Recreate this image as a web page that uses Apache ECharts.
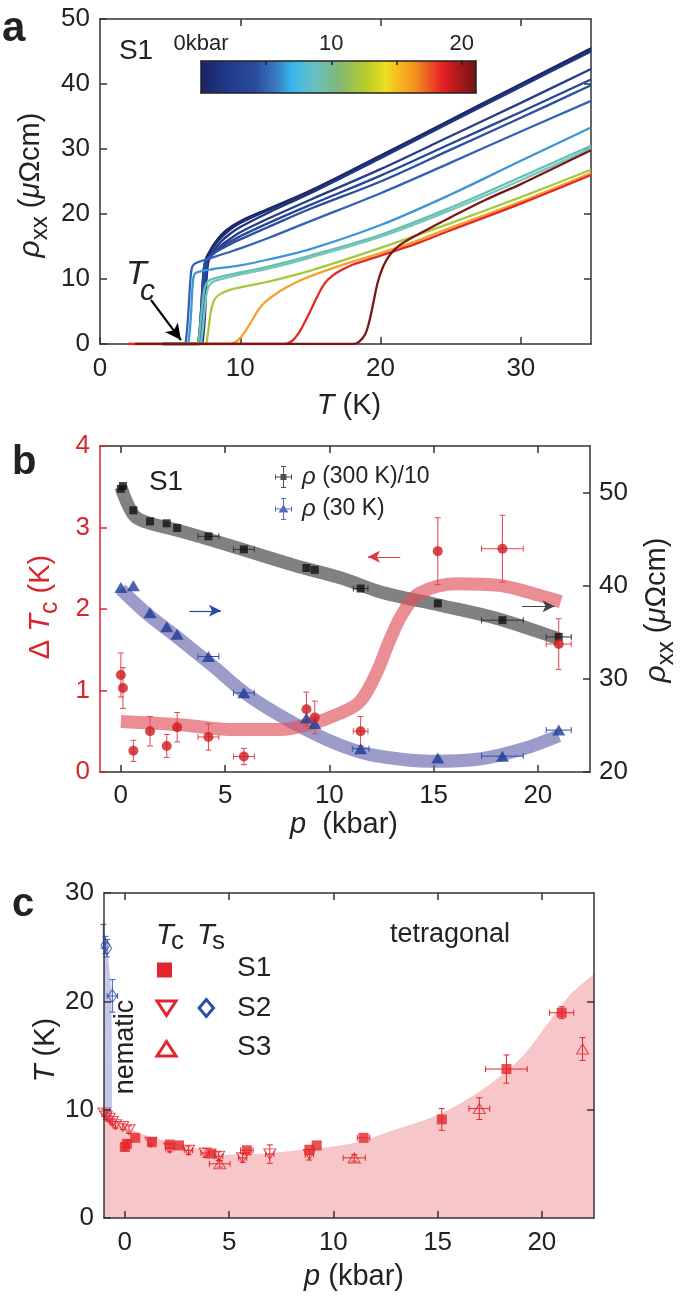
<!DOCTYPE html>
<html><head><meta charset="utf-8">
<script src="https://cdn.jsdelivr.net/npm/echarts@6.0.0/dist/echarts.min.js"></script>
<style>html,body{margin:0;padding:0;background:#fff}#chart{width:685px;height:1297px}</style>
</head><body><div id="chart"></div>
<script>
// ---------------- Panel a data (T in K, rho in µΩcm) ----------------
const pressuresA = [0, 0.1, 0.6, 1.4, 2.2, 2.7, 4.2, 5.9, 8.9, 9.3, 11.5, 15.2, 18.3, 21.0];
const colorsA = ['#1b2667','#1e2d74','#22357f','#243d8c','#284596','#2b4ea2','#3262b4','#3d97d6','#64c0b6','#78c6b8','#a6c83e','#f5a028','#e42a25','#7b1616'];
const curveP00 = [[4.5,0],[6.9,0],[7.05,1],[7.2,5],[7.35,10.5],[7.5,12.8],[7.8,14.2],[8.3,15.9],[9,17.5],[10,18.9],[12,20.8],[15,23.6],[20,29.0],[25,34.5],[30,40.0],[35,45.5]];
const curveP01 = [[4.5,0],[7.0,0],[7.15,1],[7.3,5],[7.45,10.5],[7.6,12.8],[7.9,14.2],[8.4,15.8],[9.1,17.3],[10,18.6],[12,20.6],[15,23.4],[20,28.8],[25,34.3],[30,39.8],[35,45.2]];
const curveP06 = [[4.5,0],[7.2,0],[7.35,1],[7.5,5],[7.6,10],[7.75,12.8],[8.1,14.3],[8.6,15.7],[9.3,17.0],[10,18.0],[12,20.2],[15,23.2],[20,28.6],[25,34.1],[30,39.6],[35,45.0]];
const curveP14 = [[4.5,0],[7.1,0],[7.25,1],[7.4,5],[7.55,10],[7.7,12.8],[8.1,14.0],[8.7,15.3],[9.5,16.5],[10,17.2],[12,19.3],[15,22.2],[20,26.9],[25,32.0],[30,37.1],[35,42.3]];
const curveP22 = [[4.5,0],[7.0,0],[7.15,1],[7.3,5],[7.45,10],[7.6,12.7],[8.1,13.9],[8.7,15.0],[9.5,16.0],[10,16.6],[12,18.6],[15,21.4],[20,25.9],[25,30.8],[30,35.7],[35,40.7]];
const curveP27 = [[4.5,0],[6.9,0],[7.05,1],[7.2,5],[7.35,10],[7.5,12.6],[8.0,13.8],[8.7,14.7],[9.5,15.6],[10,16.1],[12,18.0],[15,20.8],[20,25.0],[25,29.9],[30,34.8],[35,39.8]];
const curveP42 = [[4.5,0],[6.0,0],[6.15,1],[6.3,5],[6.45,10],[6.6,12.0],[7,12.6],[8,13.3],[9,14.0],[10,14.7],[12,16.3],[15,18.9],[20,23.2],[25,27.9],[30,32.7],[35,37.4]];
const curveP59 = [[4.5,0],[6.2,0],[6.35,1],[6.5,5],[6.6,9],[6.75,10.8],[7.2,11.2],[8,11.5],[10,12.1],[12,13.0],[15,14.6],[20,18.3],[25,23.0],[30,28.2],[35,33.3]];
const curveP89 = [[4.5,0],[6.9,0],[7.05,1],[7.2,4],[7.35,7],[7.5,8.9],[7.8,9.8],[8.5,10.3],[10,11.0],[12,11.9],[15,13.6],[20,16.8],[25,21.0],[30,25.7],[35,30.5]];
const curveP93 = [[4.5,0],[7.1,0],[7.25,1],[7.4,4],[7.55,7],[7.7,8.6],[8,9.5],[8.7,10.0],[10,10.7],[12,11.6],[15,13.3],[20,16.5],[25,20.6],[30,25.2],[35,30.1]];
const curveP115 = [[4.5,0],[7.5,0],[7.65,1],[7.8,3.5],[7.95,5.5],[8.15,6.8],[8.5,7.6],[9.2,8.3],[10,8.7],[12,9.6],[15,11.3],[20,14.8],[25,18.6],[30,22.6],[35,26.8]];
const curveP152 = [[2,0],[9.3,0],[9.8,0.5],[10.3,1.8],[10.8,3.5],[11.3,5.3],[11.8,6.5],[12.4,7.5],[13.2,8.6],[14.5,10.0],[16.5,11.6],[18.5,13.0],[20,14.0],[22.5,15.8],[25,17.9],[30,21.9],[35,26.3]];
const curveP183 = [[2,0],[13.2,0],[13.7,0.5],[14.2,1.8],[14.7,3.8],[15.2,6.0],[15.7,8.2],[16.2,9.8],[16.9,11.0],[18,12.2],[19,12.9],[20,13.6],[22.5,15.4],[25,17.5],[30,21.6],[35,26.0]];
const curveP210 = [[2.5,0],[18.1,0],[18.5,0.4],[18.9,1.5],[19.2,3.5],[19.5,6.5],[19.8,9.5],[20.2,12.0],[20.7,13.8],[21.3,15.1],[22.2,16.3],[23.5,17.8],[25,19.5],[27.5,22.2],[30,24.6],[32.5,27.2],[35,29.8]];
const curvesA = [curveP00,curveP01,curveP06,curveP14,curveP22,curveP27,curveP42,curveP59,curveP89,curveP93,curveP115,curveP152,curveP183,curveP210];
const ticksAx = [0,10,20,30];
const ticksAy = [0,10,20,30,40,50];
const colorbarMax = 21.1;
const colorbarTicks = [5,10,15,20];
const colorbarLabels = [0,10,20];
const colorbarStops = [[0,'#1a2466'],[0.1,'#213a8c'],[0.2,'#2b4c9e'],[0.27,'#3a78c0'],[0.33,'#35b8ec'],[0.42,'#6cc0c0'],[0.5,'#80b878'],[0.6,'#b8cc2a'],[0.67,'#e8e020'],[0.71,'#f7c020'],[0.78,'#f39020'],[0.88,'#e51e25'],[1,'#6e1512']];

// ---------------- Panel b data ----------------
const pB300 = [0, 0.1, 0.6, 1.4, 2.2, 2.7, 4.2, 5.9, 8.9, 9.3, 11.5, 15.2, 18.3, 21.0];
const rho300 = [50.4, 50.7, 48.1, 46.9, 46.7, 46.2, 45.3, 43.9, 41.9, 41.7, 39.7, 38.1, 36.3, 34.5];
const rho300Xerr = [0,0,0,0,0,0,0.5,0.5,0,0,0.35,0,1.0,0.6];
const pB30 = [0, 0.6, 1.4, 2.2, 2.7, 4.2, 5.9, 8.9, 9.3, 11.5, 15.2, 18.3, 21.0];
const rho30 = [39.8, 40.0, 37.1, 35.6, 34.8, 32.4, 28.5, 25.8, 25.2, 22.5, 21.5, 21.7, 24.5];
const rho30Xerr = [0,0,0,0,0,0.5,0.5,0,0,0.4,0,1.0,0.6];
const pDT = [0, 0.1, 0.6, 1.4, 2.2, 2.7, 4.2, 5.9, 8.9, 9.3, 11.5, 15.2, 18.3, 21.0];
const dTc = [1.19, 1.03, 0.26, 0.50, 0.32, 0.55, 0.43, 0.19, 0.77, 0.67, 0.50, 2.71, 2.74, 1.57];
const dTcYerr = [0.27,0.25,0.13,0.18,0.14,0.18,0.16,0.1,0.21,0.2,0.18,0.41,0.41,0.31];
const dTcXerr = [0,0,0,0,0,0,0.5,0.5,0,0,0.35,0,1.0,0.6];
const bandGrayP = [0, 0.3, 0.7, 1.4, 2.8, 5.1, 8.3, 10.6, 12.5, 15.3, 18.0, 21.0];
const bandGrayRho = [50.6, 48.9, 47.4, 46.7, 45.9, 44.4, 42.2, 40.8, 39.3, 37.9, 36.5, 34.3];
const bandBlueP = [0, 1.2, 2.8, 4.4, 6.0, 7.6, 9.1, 10.6, 12.1, 14.9, 17.2, 19.3, 21.0];
const bandBlueRho = [39.6, 37.1, 34.3, 31.4, 28.4, 26.1, 24.3, 22.8, 21.8, 21.15, 21.4, 22.5, 23.9];
const bandRedP = [0, 2.8, 5.5, 7.6, 9.1, 10.5, 11.45, 12.25, 12.9, 13.5, 14.3, 16.1, 18.15, 19.75, 21.1];
const bandRedDT = [0.62, 0.58, 0.52, 0.52, 0.59, 0.72, 0.86, 1.21, 1.62, 1.94, 2.19, 2.31, 2.29, 2.19, 2.09];
const ticksBx = [0,5,10,15,20];
const ticksBl = [0,1,2,3,4];
const ticksBr = [20,30,40,50];

// ---------------- Panel c data ----------------
const pS1 = [0, 0.1, 0.5, 1.3, 2.15, 2.6, 4.15, 5.85, 8.85, 9.2, 11.45, 15.2, 18.3, 20.95];
const TcS1 = [6.55, 6.85, 7.4, 7.0, 6.78, 6.7, 5.95, 6.25, 6.3, 6.7, 7.4, 9.1, 13.75, 18.95];
const S1Xerr = [0,0,0,0,0,0,0,0.3,0,0,0.3,0,1.0,0.58];
const S1Yerr = [0.3,0.3,0,0,0,0,0,0,0,0,0,1.0,1.3,0.55];
const pS2 = [-1.0, -0.9, -0.75, -0.6, -0.45, -0.1, 0.2, 1.25, 2.15, 3.05, 3.85, 4.5, 5.65, 6.95, 8.85];
const TcS2 = [9.7, 9.4, 9.2, 8.9, 8.6, 8.45, 8.15, 7.0, 6.45, 6.25, 6.0, 5.7, 5.55, 5.9, 5.85];
const S2Xerr = [0,0,0,0,0,0,0,0,0.2,0.2,0.2,0.2,0.2,0.2,0.2];
const S2Yerr = [0.3,0.3,0.3,0.3,0.3,0.3,0.35,0.3,0.35,0.4,0.4,0.4,0.4,0.85,0.5];
const pS3 = [4.55, 11.0, 17.0, 21.95];
const TcS3 = [5.0, 5.55, 10.1, 15.6];
const S3Xerr = [0.5, 0.53, 0.5, 0];
const S3Yerr = [0.3, 0.3, 1.0, 1.05];
const pTs = [-1.03, -0.93, -0.85, -0.6];
const TsS2 = [26.0, 25.2, 24.9, 20.5];
const TsXerr = [0,0,0,0.25];
const TsYerr = [1.1,0.8,0.8,1.5];
const scP = [-1, -0.5, 0, 0.5, 1.3, 2.2, 3.0, 4.0, 4.9, 6.0, 7.0, 8.5, 10.0, 11.4, 12.5, 13.7, 15.0, 16.0, 17.1, 18.2, 19.2, 20.3, 21.3, 22.5];
const scT = [9.7, 9.1, 8.5, 8.0, 7.45, 7.0, 6.6, 6.2, 5.85, 5.9, 6.0, 6.3, 6.6, 7.1, 7.85, 8.6, 9.5, 10.5, 11.8, 13.4, 15.2, 18.0, 20.5, 22.5];
const nemP = [-1, -0.93, -0.78, -0.67, -0.63, -0.61, -0.6];
const nemT = [26.5, 25.7, 23.8, 21.4, 17.7, 10, 0];
const ticksCx = [0,5,10,15,20];
const ticksCy = [0,10,20,30];

// ---------------- helpers ----------------
const FONT = '"Liberation Sans", Arial, Helvetica, sans-serif';
const INK = '#222';
const FRAME = '#333';
const RED = '#d7262b';
const zip = (a, b) => a.map((v, i) => [v, b[i]]);
const zip4 = (a, b, c, d) => a.map((v, i) => [v, b[i], c[i], d[i]]);

function axis(o) {
  return {
    type: 'value', gridIndex: o.grid, min: o.min, max: o.max, position: o.pos, z: o.z || 0,
    splitLine: { show: false },
    axisLine: { show: true, onZero: false, lineStyle: { color: o.color || FRAME, width: 1.5 } },
    axisTick: { show: !!o.ticks, inside: true, length: o.tickLen || 7, customValues: o.ticks || [], lineStyle: { color: o.color || FRAME, width: 1.5 } },
    axisLabel: { show: !!o.labels, customValues: o.labels || [], color: o.labelColor || INK, fontSize: o.fontSize || 26, fontFamily: FONT, margin: o.margin || 10, formatter: o.formatter }
  };
}

const mctx = document.createElement('canvas').getContext('2d');
function fontStr(sz, it, bold) { return (it ? 'italic ' : '') + (bold ? 'bold ' : '') + sz + 'px ' + FONT; }
function tw(t, sz, it, bold) { mctx.font = fontStr(sz, it, bold); return mctx.measureText(t).width; }
// parts: [text, size, italic, dy, color, bold]
function textRun(parts, cx, cy, opt) {
  opt = opt || {};
  const rot = !!opt.rotate;
  const widths = parts.map(p => tw(p[0], p[1], p[2], p[5]));
  const W = widths.reduce((a, b) => a + b, 0);
  let start = opt.align === 'left' ? 0 : -W / 2;
  return parts.map((p, i) => {
    const off = start; start += widths[i];
    const dy = p[3] || 0;
    return {
      type: 'text', silent: true, z: 100,
      x: rot ? cx + dy : cx + off, y: rot ? cy - off : cy + dy,
      rotation: rot ? Math.PI / 2 : 0,
      style: { text: p[0], font: fontStr(p[1], p[2], p[5]), fill: p[4] || opt.color || INK,
        align: 'left', verticalAlign: 'middle', textAlign: 'left', textVerticalAlign: 'middle' }
    };
  });
}

function errSeries(data, xi, yi, color, cap, z) {
  return {
    type: 'custom', xAxisIndex: xi, yAxisIndex: yi, z: z || 3, silent: true, clip: false,
    data: data, encode: { x: 0, y: 1 },
    renderItem: function (params, api) {
      const x = api.value(0), y = api.value(1), ex = api.value(2), ey = api.value(3);
      const st = { stroke: color, lineWidth: 1 };
      const ch = [];
      const ln = (x1, y1, x2, y2) => ch.push({ type: 'line', shape: { x1, y1, x2, y2 }, style: st });
      if (ex > 0) {
        const a = api.coord([x - ex, y]), b = api.coord([x + ex, y]);
        ln(a[0], a[1], b[0], b[1]); ln(a[0], a[1] - cap, a[0], a[1] + cap); ln(b[0], b[1] - cap, b[0], b[1] + cap);
      }
      if (ey > 0) {
        const a = api.coord([x, y - ey]), b = api.coord([x, y + ey]);
        ln(a[0], a[1], b[0], b[1]); ln(a[0] - cap, a[1], a[0] + cap, a[1]); ln(b[0] - cap, b[1], b[0] + cap, b[1]);
      }
      return { type: 'group', children: ch };
    }
  };
}

// ---------------- option ----------------
const grids = [
  { left: 100, top: 19, width: 491, height: 325 },   // a
  { left: 100, top: 446, width: 490, height: 326 },  // b
  { left: 104, top: 893, width: 490, height: 325 },  // c
  { left: 201, top: 61, width: 275, height: 32 }     // colorbar
];

const xAxes = [
  axis({ grid: 0, min: 0, max: 35, pos: 'bottom', ticks: ticksAx, labels: ticksAx, margin: 12 }),
  axis({ grid: 0, min: 0, max: 35, pos: 'top', ticks: ticksAx.slice(1) }),
  axis({ grid: 1, min: -1, max: 22.5, pos: 'bottom', ticks: ticksBx, labels: ticksBx, margin: 11 }),
  axis({ grid: 1, min: -1, max: 22.5, pos: 'top', ticks: ticksBx }),
  axis({ grid: 2, min: -1, max: 22.5, pos: 'bottom', ticks: ticksCx, labels: ticksCx, margin: 12, z: 5 }),
  axis({ grid: 2, min: -1, max: 22.5, pos: 'top', ticks: ticksCx, z: 5 }),
  axis({ grid: 3, min: 0, max: colorbarMax, pos: 'top', ticks: colorbarTicks, tickLen: 4, labels: colorbarLabels, fontSize: 22, margin: 6, z: 5, color: '#222', formatter: v => (v === 0 ? '0kbar' : String(v)) }),
  axis({ grid: 3, min: 0, max: colorbarMax, pos: 'bottom', z: 5, color: '#222' })
];
const yAxes = [
  axis({ grid: 0, min: 0, max: 50, pos: 'left', ticks: ticksAy, labels: ticksAy, margin: 10 }),
  axis({ grid: 0, min: 0, max: 50, pos: 'right', ticks: ticksAy.slice(1, 5) }),
  axis({ grid: 1, min: 0, max: 4, pos: 'left', ticks: ticksBl, labels: ticksBl, margin: 10, color: RED, labelColor: RED }),
  axis({ grid: 1, min: 20, max: 55, pos: 'right', ticks: ticksBr, labels: ticksBr, margin: 9 }),
  axis({ grid: 2, min: 0, max: 30, pos: 'left', ticks: ticksCy, labels: ticksCy, margin: 10, z: 5 }),
  axis({ grid: 2, min: 0, max: 30, pos: 'right', ticks: [10, 20], z: 5 }),
  axis({ grid: 3, min: 0, max: 1, pos: 'left', z: 5, color: '#222' }),
  axis({ grid: 3, min: 0, max: 1, pos: 'right', z: 5, color: '#222' })
];

const SM = 0.35;
const series = [];
// panel a curves
curvesA.forEach((c, i) => {
  const s = {
    type: 'line', name: pressuresA[i] + ' kbar', xAxisIndex: 0, yAxisIndex: 0, data: c,
    smooth: SM, showSymbol: false, symbol: 'none', silent: true,
    lineStyle: { color: colorsA[i], width: 2.3 }, z: 2 + i * 0.01
  };
  if (i === 0) {
    s.markLine = { silent: true, symbol: ['none', 'arrow'], symbolSize: [12, 16], animation: false,
      label: { show: false }, lineStyle: { color: '#000', width: 2.2, type: 'solid' },
      data: [[{ coord: [3.63, 6.8] }, { coord: [5.77, 0.6] }]] };
  }
  series.push(s);
});
// colorbar
series.push({
  type: 'line', xAxisIndex: 6, yAxisIndex: 6, data: [[0, 1], [colorbarMax, 1]], symbol: 'none', silent: true,
  lineStyle: { width: 0 }, z: 1,
  areaStyle: { opacity: 1, color: new echarts.graphic.LinearGradient(0, 0, 1, 0, colorbarStops.map(s => ({ offset: s[0], color: s[1] }))) }
});
// panel b bands
series.push({ type: 'line', xAxisIndex: 2, yAxisIndex: 3, data: zip(bandGrayP, bandGrayRho), smooth: SM, symbol: 'none', silent: true,
  lineStyle: { color: 'rgba(70,70,70,0.68)', width: 13 }, z: 1,
  markLine: { silent: true, symbol: ['none', 'arrow'], symbolSize: [9, 12], label: { show: false }, lineStyle: { color: '#444', width: 1.2, type: 'solid' }, data: [[{ coord: [19.24, 37.8] }, { coord: [20.8, 37.8] }]] } });
series.push({ type: 'line', xAxisIndex: 2, yAxisIndex: 3, data: zip(bandBlueP, bandBlueRho), smooth: SM, symbol: 'none', silent: true,
  lineStyle: { color: 'rgba(95,95,170,0.62)', width: 13 }, z: 1.1,
  markLine: { silent: true, symbol: ['none', 'arrow'], symbolSize: [9, 12], label: { show: false }, lineStyle: { color: '#2a4aa8', width: 1.2, type: 'solid' }, data: [[{ coord: [3.29, 37.3] }, { coord: [4.8, 37.3] }]] } });
series.push({ type: 'line', xAxisIndex: 2, yAxisIndex: 2, data: zip(bandRedP, bandRedDT), smooth: SM, symbol: 'none', silent: true,
  lineStyle: { color: 'rgba(222,80,92,0.65)', width: 13 }, z: 1.2,
  markLine: { silent: true, symbol: ['arrow', 'none'], symbolSize: [9, 12], label: { show: false }, lineStyle: { color: '#e0353b', width: 1.2, type: 'solid' }, data: [[{ coord: [11.85, 2.64] }, { coord: [13.4, 2.64] }]] } });
// panel b error bars + markers
series.push(errSeries(zip4(pB300, rho300, rho300Xerr, rho300.map(() => 0)), 2, 3, '#333', 3, 3));
series.push(errSeries(zip4(pB30, rho30, rho30Xerr, rho30.map(() => 0)), 2, 3, '#3050b0', 3, 3));
series.push(errSeries(zip4(pDT, dTc, dTcXerr, dTcYerr), 2, 2, '#e0474c', 3, 3));
series.push({ type: 'scatter', name: 'rho300', xAxisIndex: 2, yAxisIndex: 3, data: zip(pB300, rho300), symbol: 'rect', symbolSize: 8, itemStyle: { color: '#111' }, z: 4, silent: true });
series.push({ type: 'scatter', name: 'rho30', xAxisIndex: 2, yAxisIndex: 3, data: zip(pB30, rho30), symbol: 'triangle', symbolSize: [13, 11], itemStyle: { color: '#1f3a93' }, z: 4, silent: true });
series.push({ type: 'scatter', name: 'dTc', xAxisIndex: 2, yAxisIndex: 2, data: zip(pDT, dTc), symbol: 'circle', symbolSize: 10, itemStyle: { color: '#d11a1f' }, z: 4, silent: true });
// panel c areas
series.push({ type: 'line', xAxisIndex: 4, yAxisIndex: 4, data: zip(nemP, nemT), smooth: false, symbol: 'none', silent: true,
  lineStyle: { width: 0 }, areaStyle: { color: '#c5c6ea', opacity: 1 }, z: 1 });
series.push({ type: 'line', xAxisIndex: 4, yAxisIndex: 4, data: zip(scP, scT), smooth: SM, symbol: 'none', silent: true,
  lineStyle: { width: 0 }, areaStyle: { color: '#f7c6c9', opacity: 1 }, z: 1.1 });
// panel c error bars + markers
series.push(errSeries(zip4(pS2, TcS2, S2Xerr, S2Yerr), 4, 4, '#e3262b', 3, 3));
series.push(errSeries(zip4(pS3, TcS3, S3Xerr, S3Yerr), 4, 4, '#e3262b', 3, 3));
series.push(errSeries(zip4(pS1, TcS1, S1Xerr, S1Yerr), 4, 4, '#e3262b', 3, 3));
series.push(errSeries(zip4(pTs, TsS2, TsXerr, TsYerr), 4, 4, '#3a5cb5', 3, 3));
series.push({ type: 'scatter', xAxisIndex: 4, yAxisIndex: 4, data: zip(pS2, TcS2), symbol: 'path://M0,0 L10,0 L5,8.66 Z', symbolSize: [12, 10],
  itemStyle: { color: 'rgba(0,0,0,0)', borderColor: '#e3262b', borderWidth: 1.1 }, z: 4, silent: true });
series.push({ type: 'scatter', xAxisIndex: 4, yAxisIndex: 4, data: zip(pS3, TcS3), symbol: 'triangle', symbolSize: [12, 10],
  itemStyle: { color: 'rgba(0,0,0,0)', borderColor: '#e3262b', borderWidth: 1.1 }, z: 4, silent: true });
series.push({ type: 'scatter', xAxisIndex: 4, yAxisIndex: 4, data: zip(pS1, TcS1), symbol: 'rect', symbolSize: 10,
  itemStyle: { color: '#e3262b' }, z: 5, silent: true });
series.push({ type: 'scatter', xAxisIndex: 4, yAxisIndex: 4, data: zip(pTs, TsS2), symbol: 'diamond', symbolSize: [9, 13],
  itemStyle: { color: 'rgba(0,0,0,0)', borderColor: '#2d4ea5', borderWidth: 1.1 }, z: 5, silent: true });

// legend icons (error-bar cross with marker)
const crossPath = 'M0,10.5 h17 v1 h-17 Z M8,0 h1 v22 h-1 Z M0,8.5 h1 v5 h-1 Z M16,8.5 h1 v5 h-1 Z M6,0 h5 v1 h-5 Z M6,21 h5 v1 h-5 Z';
const iconSquare = 'path://' + crossPath + ' M5.5,8 h6 v6 h-6 Z';
const iconTri = 'path://' + crossPath + ' M3.5,14.5 L8.5,6.5 L13.5,14.5 Z';

const graphics = [].concat(
  // panel a
  textRun([['a', 42, false, 0, INK, true]], 2, 29, { align: 'left' }),
  textRun([['S1', 28]], 136, 51),
  textRun([['T', 34, true]], 126, 275, { align: 'left' }),
  textRun([['c', 30, true]], 140, 292, { align: 'left' }),
  textRun([['T', 29, true], [' (K)', 29]], 349, 406),
  textRun([['ρ', 30, true], ['xx', 24, false, 9], [' (', 29], ['μ', 29, true], ['Ωcm)', 29]], 31, 185, { rotate: true }),
  // panel b
  textRun([['b', 40, false, 0, INK, true]], 12, 463, { align: 'left' }),
  textRun([['S1', 28]], 166, 482),
  textRun([['Δ ', 29], ['T', 29, true], ['c', 25, false, 9], [' (K)', 29]], 41, 607, { rotate: true, color: RED }),
  textRun([['ρ', 30, true], ['xx', 24, false, 9], [' (', 29], ['μ', 29, true], ['Ωcm)', 29]], 657, 610, { rotate: true }),
  textRun([['p', 29, true], ['  (kbar)', 29]], 344, 825),
  // panel c
  textRun([['c', 40, false, 0, INK, true]], 12, 905, { align: 'left' }),
  textRun([['T', 29, true], [' (K)', 29]], 46, 1050, { rotate: true }),
  textRun([['p', 29, true], [' (kbar)', 29]], 354, 1277),
  textRun([['tetragonal', 27]], 450, 935),
  textRun([['nematic', 27]], 126, 1047, { rotate: true }),
  textRun([['T', 29, true]], 156, 936, { align: 'left' }),
  textRun([['c', 26]], 171, 942, { align: 'left' }),
  textRun([['T', 29, true]], 197, 936, { align: 'left' }),
  textRun([['s', 26]], 212, 942, { align: 'left' }),
  textRun([['S1', 28]], 237, 968, { align: 'left' }),
  textRun([['S2', 28]], 237, 1008, { align: 'left' }),
  textRun([['S3', 28]], 237, 1047, { align: 'left' }),
  [
    { type: 'rect', silent: true, z: 100, shape: { x: 157, y: 962.5, width: 15, height: 15 }, style: { fill: '#e3262b' } },
    { type: 'polygon', silent: true, z: 100, shape: { points: [[157, 1001], [176, 1001], [166.5, 1015.5]] }, style: { fill: 'none', stroke: '#e3262b', lineWidth: 3, lineJoin: 'miter' } },
    { type: 'polygon', silent: true, z: 100, shape: { points: [[206.3, 999.5], [213.5, 1008], [206.3, 1016.5], [199.1, 1008]] }, style: { fill: 'none', stroke: '#2d4ea5', lineWidth: 3, lineJoin: 'miter' } },
    { type: 'polygon', silent: true, z: 100, shape: { points: [[157, 1056], [176, 1056], [166.5, 1041.5]] }, style: { fill: 'none', stroke: '#e3262b', lineWidth: 3, lineJoin: 'miter' } }
  ]
);

const option = {
  animation: false,
  backgroundColor: '#fff',
  textStyle: { fontFamily: FONT },
  grid: grids,
  xAxis: xAxes,
  yAxis: yAxes,
  legend: {
    orient: 'vertical', left: 270, top: 460, itemGap: 8, itemWidth: 17, itemHeight: 22, selectedMode: false,
    textStyle: { fontSize: 23, color: INK, fontFamily: FONT, padding: [0, 0, 0, 5], rich: { i: { fontSize: 24, fontStyle: 'italic', color: INK, fontFamily: FONT } } },
    formatter: n => (n === 'rho300' ? '{i|ρ} (300 K)/10' : '{i|ρ} (30 K)'),
    data: [{ name: 'rho300', icon: iconSquare, itemStyle: { color: '#222' } }, { name: 'rho30', icon: iconTri, itemStyle: { color: '#2a49a5' } }]
  },
  series: series,
  graphic: { elements: graphics }
};

const chart = echarts.init(document.getElementById('chart'), null, { renderer: 'canvas', width: 685, height: 1297 });
chart.setOption(option);
</script></body></html>
